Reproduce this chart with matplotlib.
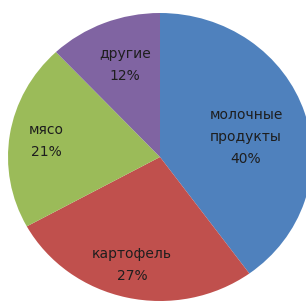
import matplotlib
matplotlib.use("Agg")
import matplotlib.pyplot as plt

categories = ["молочные\nпродукты", "картофель", "мясо", "другие"]
values = [40, 27, 21, 12]
colors = ["#4F81BD", "#C0504D", "#9BBB59", "#8064A2"]

# label centres in pixel coordinates (x, y from top) of the 306x302 image
label_pos = [(246, 137), (132, 265), (46, 141), (125, 65)]

W, H = 306, 302
fig = plt.figure(figsize=(W / 100, H / 100), dpi=100)
ax = fig.add_axes([0, 0, 1, 1])
ax.pie(values, colors=colors, startangle=90, counterclock=False,
       wedgeprops=dict(linewidth=0))
ax.set_aspect("auto")
cx, cy = 160, 157
rx, ry = 152, 144
ax.set_xlim(-cx / rx, (W - cx) / rx)
ax.set_ylim(-(H - cy) / ry, cy / ry)
ax.axis("off")

for cat, v, (px, py) in zip(categories, values, label_pos):
    ax.text(px / W, 1 - py / H, f"{cat}\n{v}%", transform=ax.transAxes,
            ha="center", va="center", fontsize=10, fontweight="normal",
            color="#1e1e1e", family="DejaVu Sans", linespacing=1.7)

fig.savefig("out.png", dpi=100, facecolor="white")
